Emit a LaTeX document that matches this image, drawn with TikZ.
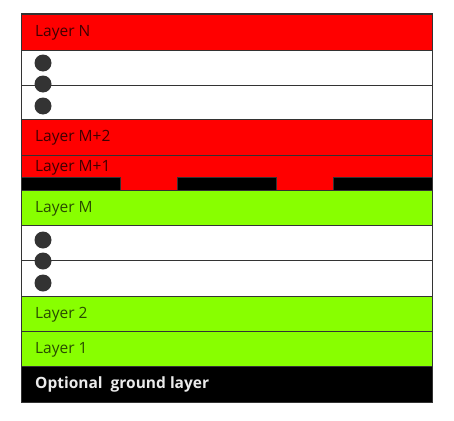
\documentclass[tikz,border=0pt]{standalone}
\usepackage{fontspec}
\setmainfont{Open Sans}
\definecolor{lred}{RGB}{255,0,0}
\definecolor{lgreen}{RGB}{136,255,0}
\definecolor{edge}{RGB}{51,51,51}
\begin{document}
\begin{tikzpicture}[x=1pt,y=-1pt,
  layer/.style={draw=edge,line width=1pt},
  lbl/.style={anchor=west,inner sep=0pt,font=\fontsize{15.5}{18}\selectfont},
  onred/.style={lbl,text=black!75!lred},
  ongreen/.style={lbl,text=black!70!lgreen},
  dot/.style={circle,fill=edge,inner sep=0pt,minimum size=17pt}]
\useasboundingbox (0,0) rectangle (454,420);
% layers
\filldraw[layer,fill=lred] (21,14) rectangle (432,50);
\filldraw[layer,fill=white] (21,50) rectangle (432,85);
\filldraw[layer,fill=white] (21,85) rectangle (432,119);
\filldraw[layer,fill=lred] (21,119) rectangle (432,155);
\filldraw[layer,fill=lred] (21,155) rectangle (432,190);
\filldraw[layer,fill=black] (21,177) rectangle (120,190);
\filldraw[layer,fill=black] (177,177) rectangle (276,190);
\filldraw[layer,fill=black] (333,177) rectangle (432,190);
\filldraw[layer,fill=lgreen] (21,190) rectangle (432,225);
\filldraw[layer,fill=white] (21,225) rectangle (432,260);
\filldraw[layer,fill=white] (21,260) rectangle (432,296);
\filldraw[layer,fill=lgreen] (21,296) rectangle (432,331);
\filldraw[layer,fill=lgreen] (21,331) rectangle (432,366);
\filldraw[layer,fill=black] (21,366) rectangle (432,402);
\draw[edge,line width=2pt] (21,14) -- (432,14);
% labels
\node[onred] (ln) at (35,33) {Layer N};
\node[onred] (lm2) at (35,138) {Layer M+2};
\node[onred] (lm1) at (35,168) {Layer M+1};
\node[ongreen] (lm) at (35,209) {Layer M};
\node[ongreen] (l2) at (35,315) {Layer 2};
\node[ongreen] (l1) at (35,350) {Layer 1};
\node[lbl,text=white!92!black,font=\fontsize{15.5}{18}\selectfont\bfseries] (lg) at (35,384) {Optional\ \ ground layer};
% dots
\node[dot] (d1) at (43,63) {};
\node[dot] (d2) at (43,84) {};
\node[dot] (d3) at (43,106) {};
\node[dot] (d4) at (43,240) {};
\node[dot] (d5) at (43,261) {};
\node[dot] (d6) at (43,283) {};
\end{tikzpicture}
\end{document}
